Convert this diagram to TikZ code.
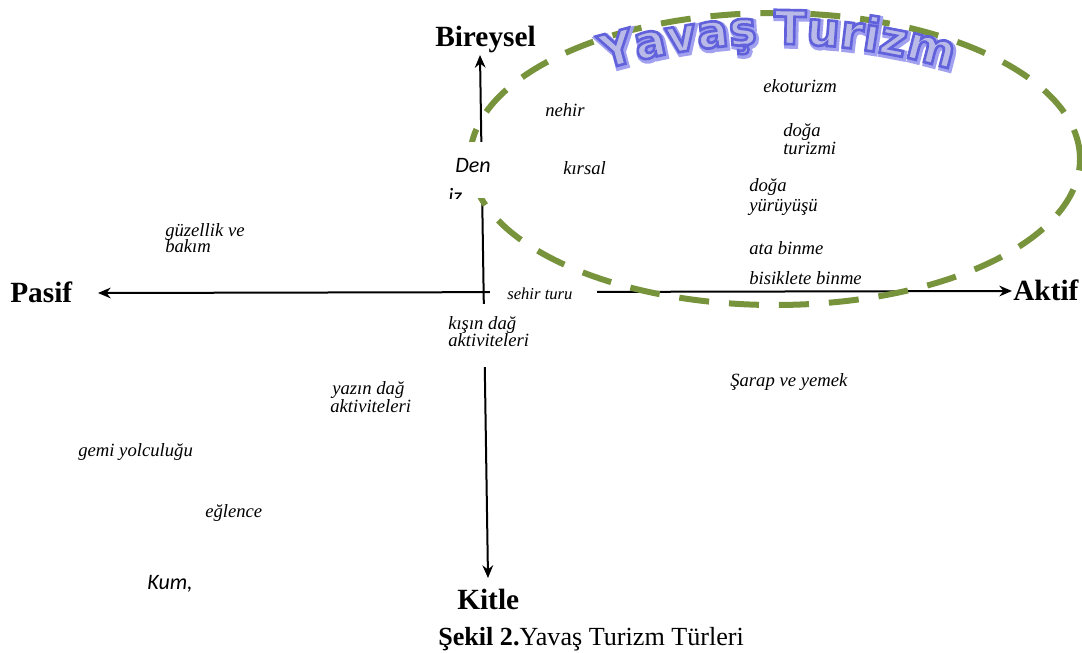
\documentclass[tikz,border=0pt]{standalone}
\usepackage{fontspec}
\setmainfont{Liberation Serif}
\newfontfamily\calfont{Liberation Serif}
\newfontfamily\carfont{Carlito}
\newfontfamily\wafont{DejaVu Sans}
\usetikzlibrary{arrows.meta,decorations.text}
\definecolor{ellgreen}{RGB}{119,147,60}
\definecolor{wafill}{RGB}{186,186,232}
\definecolor{waglow}{RGB}{160,160,240}
\tikzset{
  lab/.style={font=\calfont\itshape\fontsize{14}{16}\selectfont, anchor=base west, inner sep=0pt},
  smalllab/.style={font=\calfont\itshape\fontsize{12.5}{14}\selectfont, anchor=base west, inner sep=0pt},
  sanslab/.style={font=\carfont\itshape\fontsize{16.5}{18}\selectfont, anchor=base west, inner sep=0pt},
  big/.style={font=\bfseries\fontsize{22}{24}\selectfont, anchor=base west, inner sep=0pt},
  axisline/.style={line width=1.5pt, {Stealth[length=9.5pt,width=8pt]}-{Stealth[length=9.5pt,width=8pt]}},
  ellline/.style={draw=ellgreen, line width=4.5pt, dash pattern=on 22.5pt off 15pt},
  cover/.style={fill=white, draw=none},
}
\newcommand\yvword[3]{%
  \path[shift={#3}, decorate, decoration={text along path, text align=center,
    text={|\wafont\bfseries\fontsize{35}{36}\selectfont\color{#1}\special{pdf:literal direct #2}|Yavaş Turizm}}]
    (778,-644) ++(110:450pt) arc[start angle=110, end angle=70, radius=450pt];}
\begin{document}
\begin{tikzpicture}[x=0.75pt,y=0.75pt]
\useasboundingbox (0,0) rectangle (1082,-653);
% axes
\coordinate (vtop) at (480,-55);
\coordinate (vbot) at (488,-578);
\coordinate (hleft) at (98,-293);
\coordinate (hright) at (1012,-291);
\draw[axisline] (vtop) -- (vbot);
\draw[axisline] (hleft) -- (hright);
% ellipse
\draw[ellline] (775,-159) ellipse [x radius=228.75pt, y radius=109.5pt];
% white covers
\path[cover] (440,-142) rectangle (502,-198);
\path[cover] (490,-282) rectangle (597,-304);
\path[cover] (440,-304) rectangle (535,-367);
% axis labels
\node[big] (bir) at (435,-46) {Bireysel};
\node[big] (pas) at (10,-302) {Pasif};
\node[big] (akt) at (1013,-300) {Aktif};
\node[big] (kit) at (457,-609) {Kitle};
\node[anchor=base west, inner sep=0pt, font=\fontsize{19.6}{22}\selectfont] (cap) at (438,-645) {\textbf{Şekil 2.}Yavaş Turizm Türleri};
% labels
\node[lab] (nehir) at (545,-116) {nehir};
\node[lab] (kirsal) at (563,-174) {kırsal};
\node[lab] (eko) at (763,-92) {ekoturizm};
\node[lab] (dt1) at (783,-136) {doğa};
\node[lab] (dt2) at (783,-154) {turizmi};
\node[lab] (dy1) at (749,-191) {doğa};
\node[lab] (dy2) at (749,-211) {yürüyüşü};
\node[lab] (ata) at (749,-254) {ata binme};
\node[lab] (bis) at (749,-284) {bisiklete binme};
\node[lab] (guz1) at (165,-236) {güzellik ve};
\node[lab] (guz2) at (165,-252) {bakım};
\node[smalllab] (sehir) at (507,-299) {sehir turu};
\node[lab] (kis1) at (448,-329) {kışın dağ};
\node[lab] (kis2) at (448,-346) {aktiviteleri};
\node[lab] (yaz1) at (332,-394) {yazın dağ};
\node[lab] (yaz2) at (330,-412) {aktiviteleri};
\node[lab] (gemi) at (78,-456) {gemi yolculuğu};
\node[lab] (egl) at (205,-517) {eğlence};
\node[lab] (sarap) at (730,-386) {Şarap ve yemek};
\node[sanslab] (kum) at (147,-589) {Kum,};
\node[sanslab] (den) at (455,-172) {Den};
\begin{scope}
  \clip (440,-142) rectangle (502,-198);
  \node[sanslab] (iz) at (448,-203) {iz};
\end{scope}
% word art
\yvword{waglow}{2 Tr 4 w 0.63 0.63 0.94 RG}{(1.5,-2)}
\yvword{wafill}{2 Tr 2 w 0.38 0.38 0.86 RG}{(0,0)}
\special{pdf:literal direct 0 Tr}
\end{tikzpicture}
\end{document}
